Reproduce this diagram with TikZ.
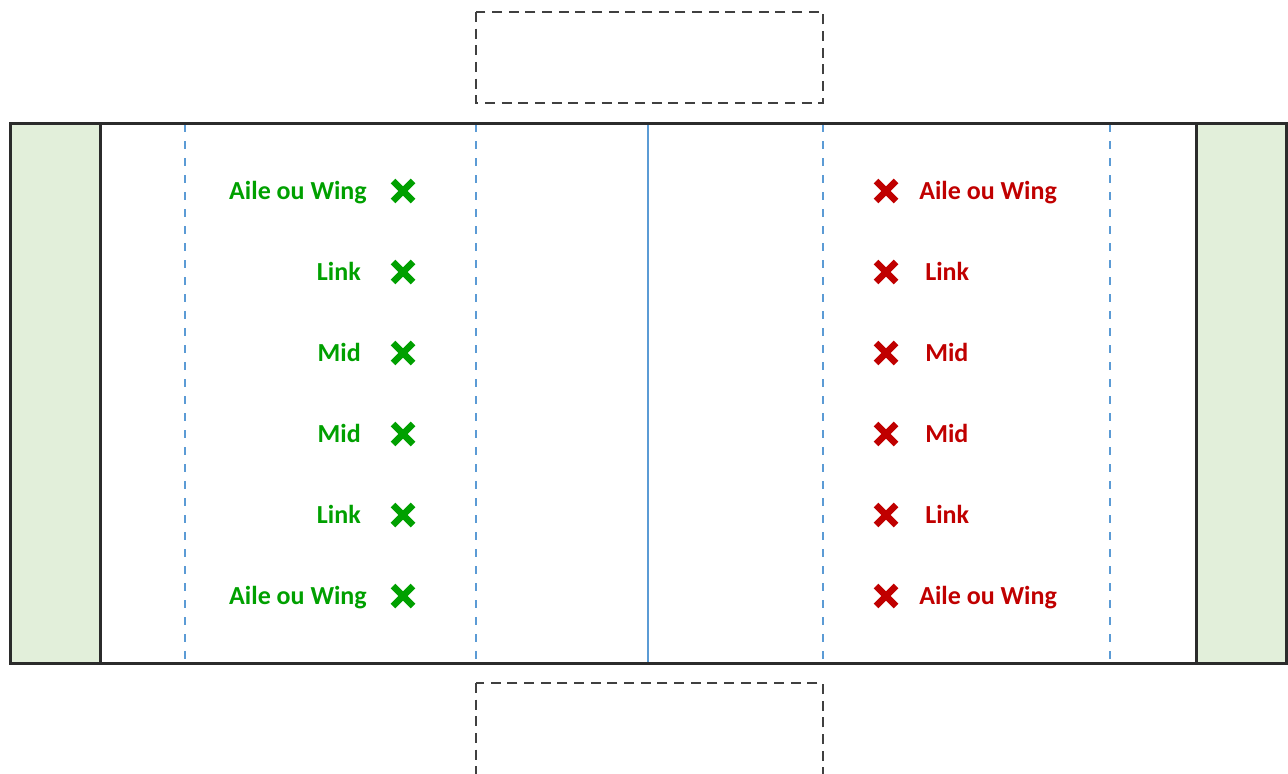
\documentclass[tikz,border=0pt]{standalone}
\usepackage{fontspec}
\setmainfont{Carlito}
\usetikzlibrary{calc}
\definecolor{frame}{HTML}{2B2B2B}
\definecolor{zone}{HTML}{E2EFDA}
\definecolor{lineblue}{HTML}{5B9BD5}
\definecolor{boxgray}{HTML}{404040}
\definecolor{okgreen}{RGB}{0,160,0}
\definecolor{nored}{RGB}{192,0,0}
\tikzset{
  pitchline/.style={draw=frame, line width=2.25pt},
  guide/.style={draw=lineblue, line width=1.8pt, dash pattern=on 6pt off 6.75pt},
  halfway/.style={draw=lineblue, line width=1.6pt},
  spare/.style={draw=boxgray, line width=1.8pt, dash pattern=on 7.5pt off 5pt},
  lbl/.style={font=\bfseries\fontsize{19.5}{22}\selectfont, inner sep=0pt},
  home/.style={lbl, text=okgreen, anchor=base east},
  away/.style={lbl, text=nored, anchor=base west},
  cross/.style={line width=5pt},
}
\newcommand{\crossmark}[3]{%
  \draw[cross, #3] ($(#1,#2)+(-10,-10)$) -- ($(#1,#2)+(10,10)$);
  \draw[cross, #3] ($(#1,#2)+(-10,10)$) -- ($(#1,#2)+(10,-10)$);
}
\begin{document}
\begin{tikzpicture}[x=0.75pt, y=-0.75pt]
\useasboundingbox (0,0) rectangle (1288,774);

% end zones
\fill[zone] (10,123) rectangle (100,663);
\fill[zone] (1196,123) rectangle (1286,663);

% field guide lines
\draw[guide] (185,124) -- (185,662);
\draw[guide] (476,124) -- (476,662);
\draw[guide] (823,124) -- (823,662);
\draw[guide] (1110,124) -- (1110,662);
\draw[halfway] (648,124) -- (648,662);

% outer frame and goal lines
\draw[pitchline] (10,123) rectangle (1286,663);
\draw[pitchline] (100,123) -- (100,663);
\draw[pitchline] (1196,123) -- (1196,663);

% dashed boxes above and below
\draw[spare] (476,12) rectangle (823,103);
\draw[spare] (476,683) rectangle (823,790);

% left team
\node[home] (l1) at (367,199.5) {Aile ou Wing};
\node[home] (l2) at (361,280.5) {Link};
\node[home] (l3) at (361,361.5) {Mid};
\node[home] (l4) at (361,442.5) {Mid};
\node[home] (l5) at (361,523.5) {Link};
\node[home] (l6) at (367,604.5) {Aile ou Wing};
\foreach \y in {191,272,353,434,515,596} {\crossmark{403}{\y}{okgreen}}

% right team
\node[away] (r1) at (919,199.5) {Aile ou Wing};
\node[away] (r2) at (925,280.5) {Link};
\node[away] (r3) at (925,361.5) {Mid};
\node[away] (r4) at (925,442.5) {Mid};
\node[away] (r5) at (925,523.5) {Link};
\node[away] (r6) at (919,604.5) {Aile ou Wing};
\foreach \y in {191,272,353,434,515,596} {\crossmark{886}{\y}{nored}}
\end{tikzpicture}
\end{document}
